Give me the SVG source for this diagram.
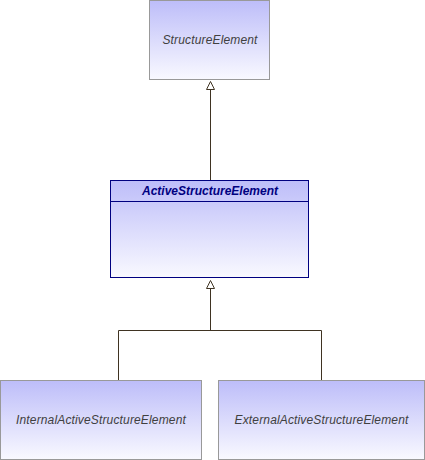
<svg xmlns="http://www.w3.org/2000/svg" width="425" height="460" viewBox="0 0 425 460">
<defs>
<linearGradient id="g" x1="0" y1="0" x2="0" y2="1">
<stop offset="0" stop-color="#bdbdf9"/>
<stop offset="1" stop-color="#f9f9ff"/>
</linearGradient>
</defs>
<style>
.box{fill:url(#g);stroke:#999999;stroke-width:1}
.abox{fill:url(#g);stroke:#000080;stroke-width:1}
.t{font-family:"Liberation Sans",Arial,sans-serif;font-size:12px;font-style:italic;fill:#404040;text-anchor:middle;letter-spacing:0.15px}
.at{font-family:"Liberation Sans",Arial,sans-serif;font-size:12px;font-style:italic;font-weight:bold;fill:#000080;text-anchor:middle}
.c{fill:none;stroke:#3f3322;stroke-width:1}
.h{fill:#ffffff;stroke:#3f3322;stroke-width:1}
</style>
<g id="connectors">
<path class="c" d="M210.5,89 V180"/>
<polygon class="h" points="210.5,81.5 206.5,89.5 214.5,89.5"/>
<path class="c" d="M210.5,288 V330.5 M118.5,380 V330.5 H321.5 V380"/>
<polygon class="h" points="210.5,280.5 206.5,288.5 214.5,288.5"/>
</g>
<g id="StructureElement">
<rect class="box" x="149.5" y="0.5" width="120" height="79"/>
<text class="t" x="210" y="44">StructureElement</text>
</g>
<g id="ActiveStructureElement">
<rect class="abox" x="110.5" y="180.5" width="198" height="97"/>
<line x1="110.5" y1="201.5" x2="308.5" y2="201.5" stroke="#000080"/>
<text class="at" x="210" y="195">ActiveStructureElement</text>
</g>
<g id="InternalActiveStructureElement">
<rect class="box" x="0.5" y="380.5" width="201" height="79"/>
<text class="t" x="101" y="424">InternalActiveStructureElement</text>
</g>
<g id="ExternalActiveStructureElement">
<rect class="box" x="218.5" y="380.5" width="206" height="79"/>
<text class="t" x="321.5" y="424">ExternalActiveStructureElement</text>
</g>
</svg>
